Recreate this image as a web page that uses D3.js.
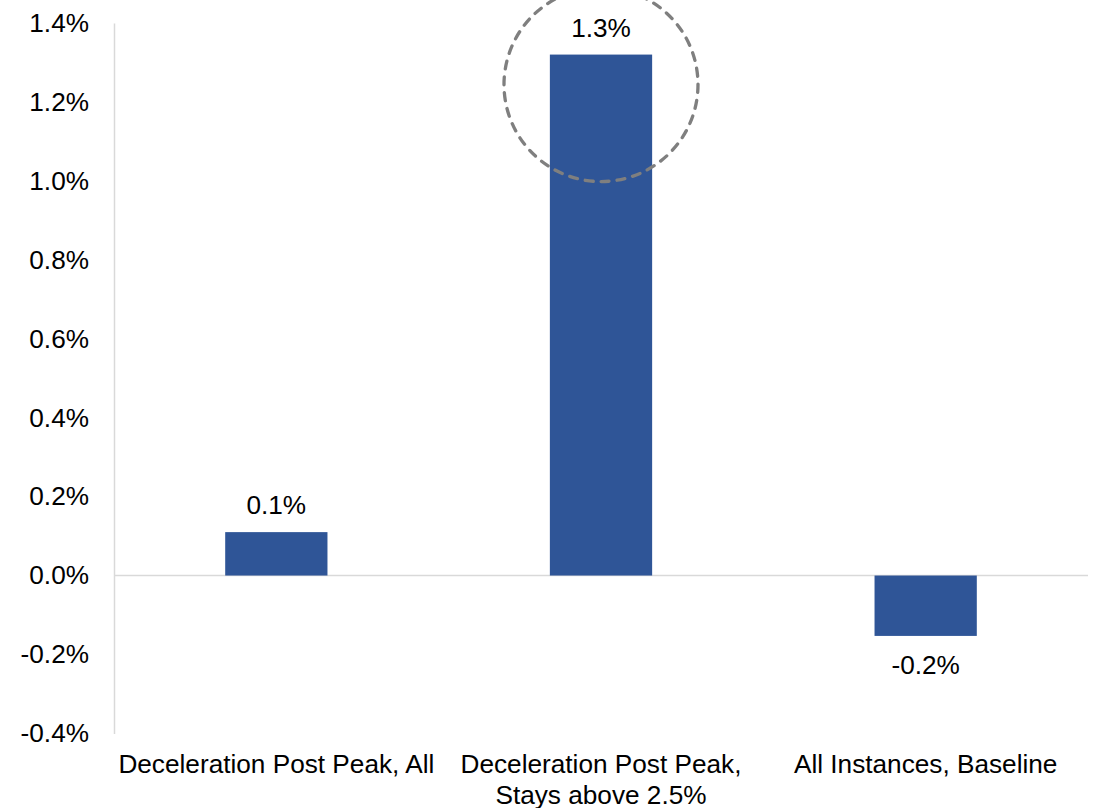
<!DOCTYPE html>
<html>
<head>
<meta charset="utf-8">
<script src="https://cdn.jsdelivr.net/npm/d3@7"></script>
<style>
  html, body { margin: 0; padding: 0; background: #ffffff; }
  svg text { font-family: "Liberation Sans", Arial, sans-serif; fill: #000000; }
</style>
</head>
<body>
<svg id="chart" width="1094" height="808"></svg>
<script>
// Average excess return (%) by instance group
const categories = [
  ["Deceleration Post Peak, All"],
  ["Deceleration Post Peak,", "Stays above 2.5%"],
  ["All Instances, Baseline"]
];
const values = [0.11, 1.32, -0.153];
const yTicks = [-0.4, -0.2, 0.0, 0.2, 0.4, 0.6, 0.8, 1.0, 1.2, 1.4];
const highlightIndex = 1;

const svg = d3.select("#chart");
const plot = { left: 114, right: 1088, top: 23, bottom: 733.4 };
const fontSize = 26.2;

const keys = categories.map(c => c.join(" "));

const x = d3.scaleBand()
  .domain(keys)
  .range([plot.left, plot.right])
  .paddingInner(0.685)
  .paddingOuter(0.3425);

const y = d3.scaleLinear()
  .domain([-0.4, 1.4])
  .range([plot.bottom, plot.top]);

// Percent labels with a plain hyphen for negatives
const fmt = v => d3.format(".1f")(v).replace("\u2212", "-") + "%";

// Value axis
const yAxis = svg.append("g")
  .attr("transform", `translate(${plot.left},0)`)
  .call(d3.axisLeft(y).tickValues(yTicks).tickFormat(fmt).tickSize(0).tickPadding(25));
yAxis.select(".domain").attr("stroke", "#d9d9d9").attr("stroke-width", 1.5);
yAxis.selectAll("text")
  .attr("font-size", fontSize)
  .attr("font-family", "Liberation Sans, Arial, sans-serif")
  .attr("fill", "#000");

// Zero baseline
svg.append("line")
  .attr("x1", plot.left).attr("x2", plot.right)
  .attr("y1", y(0)).attr("y2", y(0))
  .attr("stroke", "#d9d9d9").attr("stroke-width", 1.5);

// Bars
svg.selectAll("rect.bar")
  .data(values)
  .join("rect")
  .attr("class", "bar")
  .attr("x", (d, i) => x(keys[i]))
  .attr("width", x.bandwidth())
  .attr("y", d => y(Math.max(0, d)))
  .attr("height", d => Math.abs(y(d) - y(0)))
  .attr("fill", "#2f5597");

// Value labels
svg.selectAll("text.value")
  .data(values)
  .join("text")
  .attr("class", "value")
  .attr("x", (d, i) => x(keys[i]) + x.bandwidth() / 2)
  .attr("y", d => d >= 0 ? y(d) - 18 : y(d) + 38)
  .attr("text-anchor", "middle")
  .attr("font-size", fontSize)
  .text(d => fmt(d));

// Category labels
const catG = svg.selectAll("text.cat")
  .data(categories)
  .join("text")
  .attr("class", "cat")
  .attr("text-anchor", "middle")
  .attr("font-size", fontSize);
catG.selectAll("tspan")
  .data((d, i) => d.map(line => ({ line, i })))
  .join("tspan")
  .attr("x", d => x(keys[d.i]) + x.bandwidth() / 2)
  .attr("y", (d, j) => 773 + j * 30.5)
  .text(d => d.line);

// Dashed highlight ring around the top of the emphasised bar
const hx = x(keys[highlightIndex]) + x.bandwidth() / 2;
svg.append("circle")
  .attr("cx", hx)
  .attr("cy", y(values[highlightIndex]) + 30)
  .attr("r", 97)
  .attr("fill", "none")
  .attr("stroke", "#7f7f7f")
  .attr("stroke-width", 3.3)
  .attr("stroke-dasharray", "8,8")
  .attr("stroke-linecap", "round");
</script>
</body>
</html>
